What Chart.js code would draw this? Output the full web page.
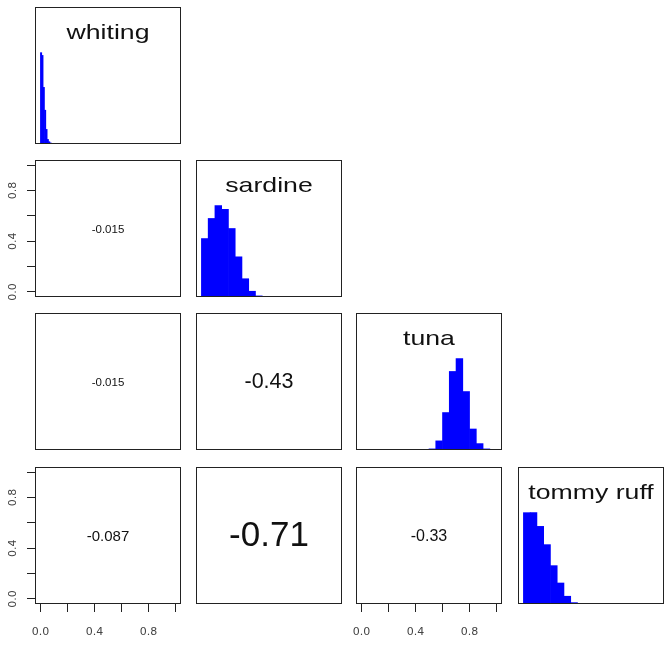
<!DOCTYPE html>
<html>
<head>
<meta charset="utf-8">
<script src="https://cdn.jsdelivr.net/npm/chart.js@4.4.0/dist/chart.umd.min.js"></script>
<style>
  body { margin: 0; background: #fff; width: 669px; height: 647px; position: relative; overflow: hidden; }
  canvas { position: absolute; }
</style>
</head>
<body>
<script>
// variables on the diagonal
const species = ['whiting', 'sardine', 'tuna', 'tommy ruff'];

// histogram bins (first break and bin width) and bar heights, scaled so the tallest bar = 1
const binStart = [0, 0, 0.40, 0];
const binWidth = [0.01, 0.05, 0.05, 0.05];
const whitingHist = [1.0, 0.97, 0.62, 0.37, 0.16, 0.05, 0.025, 0.012, 0.006];
const sardineHist = [0.64, 0.86, 1.0, 0.96, 0.75, 0.44, 0.20, 0.063, 0.012, 0.006, 0.003];
const tunaHist = [0.003, 0.005, 0.012, 0.10, 0.41, 0.86, 1.0, 0.64, 0.23, 0.07, 0.012];
const tommyHist = [1.0, 1.0, 0.85, 0.65, 0.42, 0.23, 0.085, 0.015, 0.006, 0.003, 0.002];
const histograms = [whitingHist, sardineHist, tunaHist, tommyHist];

// correlations in the lower panels: [row, col] and the printed value
const corPairs = [[1, 0], [2, 0], [2, 1], [3, 0], [3, 1], [3, 2]];
const corValues = ['-0.015', '-0.015', '-0.43', '-0.087', '-0.71', '-0.33'];
const corFontSize = [11.5, 11.5, 21.5, 15, 35, 16];

// axis ticks
const axisTicks = [0, 0.2, 0.4, 0.6, 0.8, 1.0];
const tickLabels = ['0.0', '', '0.4', '', '0.8', ''];

// layout
const colLeft = [35, 196, 356, 518];
const rowTop = [7, 160, 313, 467];
const panelW = 146, panelH = 137;
const yAxisW = 35, xAxisH = 44;
const spare = 12; // room so edge tick labels are not cut off

const panelDecor = {
  id: 'panelDecor',
  afterDraw(chart, args, opts) {
    const { ctx, chartArea: a } = chart;
    ctx.save();
    ctx.strokeStyle = '#222';
    ctx.lineWidth = 1;
    ctx.strokeRect(a.left + 0.5, a.top + 0.5, a.width - 1, a.height - 1);
    const cx = (a.left + a.right) / 2;
    ctx.fillStyle = '#111';
    ctx.textAlign = 'center';
    if (opts.label) {
      ctx.translate(cx, a.top + 32);
      ctx.scale(1.27, 1);
      ctx.font = '21px "Liberation Sans", Arial, sans-serif';
      ctx.textBaseline = 'alphabetic';
      ctx.fillText(opts.label, 0, 0);
    } else if (opts.cor) {
      ctx.font = opts.size + 'px "Liberation Sans", Arial, sans-serif';
      ctx.textBaseline = 'middle';
      ctx.fillText(opts.cor, cx, (a.top + a.bottom) / 2 + 1);
    }
    ctx.restore();
  }
};
Chart.register(panelDecor);

function tickText(value) {
  const i = axisTicks.findIndex(t => Math.abs(t - value) < 1e-6);
  return i < 0 ? '' : tickLabels[i];
}

function axisOptions(show, min, max, vertical) {
  return {
    type: 'linear',
    min: min,
    max: max,
    bounds: 'data',
    offset: false,
    display: show,
    border: { display: false },
    grid: { offset: false, drawOnChartArea: false, drawTicks: true, tickLength: 8, color: '#222', lineWidth: 1 },
    ticks: {
      autoSkip: false,
      minRotation: vertical ? 90 : 0,
      maxRotation: vertical ? 90 : 0,
      crossAlign: 'center',
      padding: vertical ? 5 : 20,
      color: '#444',
      font: { family: '"DejaVu Sans", sans-serif', size: 11 },
      callback: tickText
    },
    afterBuildTicks(scale) {
      scale.ticks = axisTicks.map(v => ({ value: v }));
    },
    afterFit(scale) {
      if (!show) return;
      if (vertical) scale.width = yAxisW; else scale.height = xAxisH;
      scale.paddingLeft = scale.paddingRight = scale.paddingTop = scale.paddingBottom = 0;
    }
  };
}

function makePanel(row, col) {
  const diag = row === col;
  const hasY = col === 0 && row % 2 === 1;
  const hasX = row === 3 && col % 2 === 0;
  const padLeft = hasX && !hasY ? spare : 0;
  const padBottom = hasY && !hasX ? spare : 0;

  const canvas = document.createElement('canvas');
  const w = panelW + (hasY ? yAxisW : 0) + padLeft;
  const h = panelH + (hasX ? xAxisH : 0) + padBottom;
  canvas.width = w;
  canvas.height = h;
  canvas.style.width = w + 'px';
  canvas.style.height = h + 'px';
  canvas.style.left = (colLeft[col] - (hasY ? yAxisW : 0) - padLeft) + 'px';
  canvas.style.top = rowTop[row] + 'px';
  document.body.appendChild(canvas);

  let datasets = [];
  let decor = {};
  if (diag) {
    datasets = [{
      data: histograms[row].map((v, k) => ({ x: binStart[row] + binWidth[row] * (k + 0.5), y: v })),
      backgroundColor: 'blue',
      borderWidth: 0,
      barPercentage: 1,
      categoryPercentage: 1
    }];
    decor = { label: species[row] };
  } else {
    const k = corPairs.findIndex(p => p[0] === row && p[1] === col);
    decor = { cor: corValues[k], size: corFontSize[k] };
  }

  new Chart(canvas, {
    type: 'bar',
    data: { datasets: datasets },
    options: {
      responsive: false,
      animation: false,
      layout: { padding: { left: padLeft, bottom: padBottom, top: 0, right: 0 }, autoPadding: false },
      scales: {
        x: axisOptions(hasX, -0.04, 1.04, false),
        y: diag ? axisOptions(false, 0, 1.5, true) : axisOptions(hasY, -0.04, 1.04, true)
      },
      plugins: {
        legend: { display: false },
        tooltip: { enabled: false },
        panelDecor: decor
      }
    }
  });
}

for (let r = 0; r < 4; r++) {
  for (let c = 0; c <= r; c++) makePanel(r, c);
}
</script>
</body>
</html>
